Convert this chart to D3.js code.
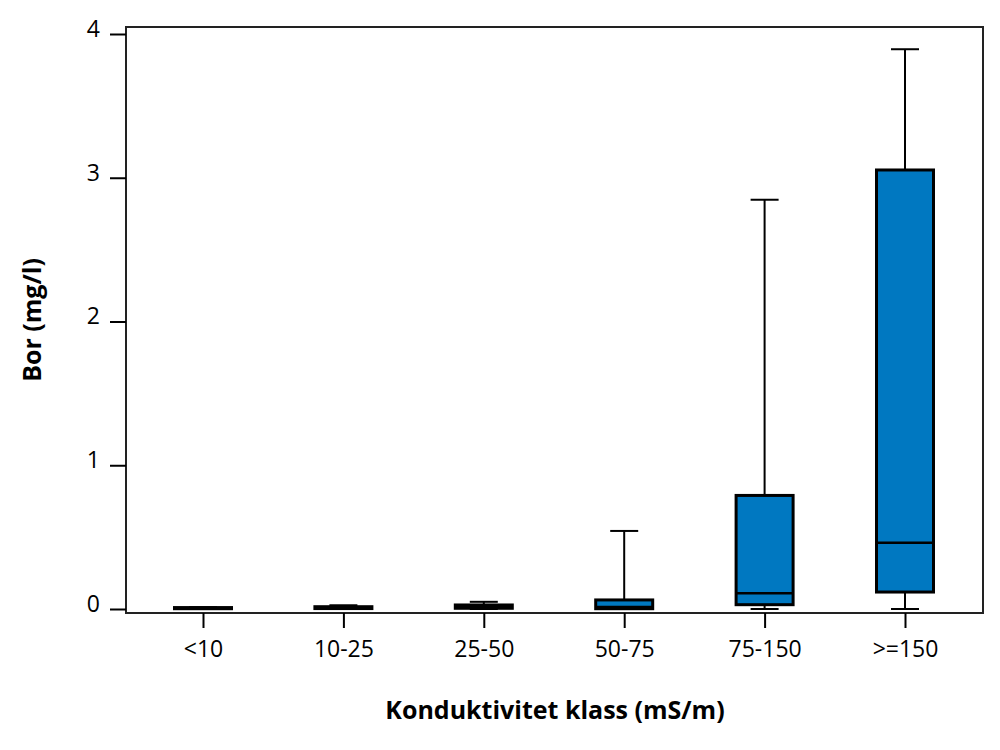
<!DOCTYPE html>
<html>
<head>
<meta charset="utf-8">
<script src="https://cdn.jsdelivr.net/npm/d3@7"></script>
<style>
  body { margin: 0; background: #fff; }
  text { font-family: "Open Sans", "DejaVu Sans", sans-serif; }
</style>
</head>
<body>
<svg id="chart" width="1000" height="750"></svg>
<script>
// data
var categories = ["<10", "10-25", "25-50", "50-75", "75-150", ">=150"];
var mins    = [0,     0,     0,     0,     0,     0];
var q1s     = [0.002, 0.003, 0.005, 0.002, 0.03,  0.118];
var medians = [0.005, 0.008, 0.012, 0.014, 0.109, 0.461];
var q3s     = [0.010, 0.016, 0.028, 0.063, 0.790, 3.054];
var maxs    = [0.012, 0.026, 0.050, 0.543, 2.847, 3.894];
var yTicks  = [0, 1, 2, 3, 4];

var svg = d3.select("#chart");

var plotLeft = 126, plotRight = 983, plotTop = 27, plotBottom = 613;

var x = d3.scalePoint()
    .domain(categories)
    .range([203, 905]);

var y = d3.scaleLinear()
    .domain([0, 4])
    .range([609, 34]);

var boxW = 57, capW = 28;

// frame
svg.append("rect")
    .attr("x", plotLeft)
    .attr("y", plotTop)
    .attr("width", plotRight - plotLeft)
    .attr("height", plotBottom - plotTop)
    .attr("fill", "none")
    .attr("stroke", "#222")
    .attr("stroke-width", 2);

// y axis
var yAxis = svg.append("g")
    .attr("transform", `translate(${plotLeft},0)`)
    .call(d3.axisLeft(y).tickValues(yTicks).tickSize(16).tickPadding(10).tickFormat(d3.format("d")));
yAxis.select(".domain").remove();
yAxis.selectAll("line").attr("stroke", "#000").attr("stroke-width", 2);
yAxis.selectAll("text").attr("font-size", 23).attr("fill", "#000").attr("dy", "0.1em");

// x axis
var xAxis = svg.append("g")
    .attr("transform", `translate(0,${plotBottom})`)
    .call(d3.axisBottom(x).tickSize(15).tickPadding(13));
xAxis.select(".domain").remove();
xAxis.selectAll("line").attr("stroke", "#000").attr("stroke-width", 2);
xAxis.selectAll("text").attr("font-size", 23).attr("fill", "#000");

// boxes
var gs = svg.append("g").selectAll("g")
    .data(categories)
    .join("g")
    .attr("transform", d => `translate(${x(d)},0)`);

// whiskers
gs.append("line")
    .attr("y1", (d, i) => y(maxs[i]))
    .attr("y2", (d, i) => y(q3s[i]))
    .attr("stroke", "#000").attr("stroke-width", 2);
gs.append("line")
    .attr("y1", (d, i) => y(mins[i]))
    .attr("y2", (d, i) => y(q1s[i]))
    .attr("stroke", "#000").attr("stroke-width", 2);
gs.append("line")
    .attr("x1", -capW / 2).attr("x2", capW / 2)
    .attr("y1", (d, i) => y(maxs[i])).attr("y2", (d, i) => y(maxs[i]))
    .attr("stroke", "#000").attr("stroke-width", 2);
gs.append("line")
    .attr("x1", -capW / 2).attr("x2", capW / 2)
    .attr("y1", (d, i) => y(mins[i])).attr("y2", (d, i) => y(mins[i]))
    .attr("stroke", "#000").attr("stroke-width", 2);

gs.append("rect")
    .attr("x", -boxW / 2)
    .attr("width", boxW)
    .attr("y", (d, i) => y(q3s[i]))
    .attr("height", (d, i) => y(q1s[i]) - y(q3s[i]))
    .attr("fill", "#0078C1")
    .attr("stroke", "#000")
    .attr("stroke-width", 3);

gs.append("line")
    .attr("x1", -boxW / 2).attr("x2", boxW / 2)
    .attr("y1", (d, i) => y(medians[i])).attr("y2", (d, i) => y(medians[i]))
    .attr("stroke", "#000").attr("stroke-width", 2.5);

// axis titles
svg.append("text")
    .attr("x", 555)
    .attr("y", 719)
    .attr("text-anchor", "middle")
    .attr("font-size", 25)
    .attr("font-weight", "bold")
    .text("Konduktivitet klass (mS/m)");

svg.append("text")
    .attr("transform", "translate(41,320) rotate(-90)")
    .attr("text-anchor", "middle")
    .attr("font-size", 25)
    .attr("font-weight", "bold")
    .text("Bor (mg/l)");
</script>
</body>
</html>
